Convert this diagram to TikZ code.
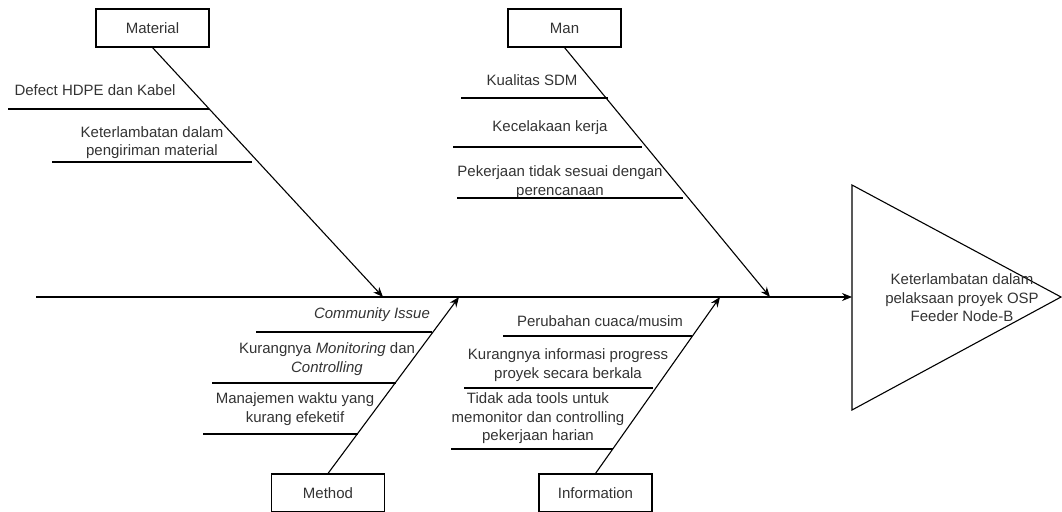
\documentclass[tikz,border=0pt]{standalone}
\usepackage{fontspec}
\setmainfont{Liberation Sans}
\usetikzlibrary{arrows.meta}
\definecolor{txt}{HTML}{333333}
\begin{document}
\begin{tikzpicture}[x=1pt,y=-1pt,line width=1.1pt,
  lbl/.style={text=txt,font=\fontsize{15}{18.5}\selectfont,align=center,inner sep=0pt},
  catbox/.style={draw,line width=1.1pt,minimum width=113pt,minimum height=38pt,inner sep=0pt,text=txt,font=\fontsize{15}{18}\selectfont},
  bone/.style={line width=1.1pt,-{Stealth[length=10pt,width=8pt]}},
  subline/.style={line width=1.1pt}]
\useasboundingbox (0,0) rectangle (1062,511);

% category boxes
\node[catbox] (mat) at (152.5,28) {Material};
\node[catbox] (man) at (564.5,28) {Man};
\node[catbox] (meth) at (328,493) {Method};
\node[catbox] (info) at (595.5,493) {Information};

% spine and head
\coordinate (spst) at (36,297);
\coordinate (headw) at (852,297);
\draw[bone] (spst) -- (headw);
\draw (852,185) -- (852,410) -- (1061,297) -- cycle;
\node[lbl] (effect) at (962,298) {Keterlambatan dalam\\pelaksaan proyek OSP\\Feeder Node-B};

% bones
\coordinate (matend) at (383,297);
\coordinate (manend) at (770,297);
\coordinate (methend) at (459,297);
\coordinate (infoend) at (720,297);
\draw[bone] (mat.south) -- (matend);
\draw[bone] (man.south) -- (manend);
\draw[bone] (meth.north) -- (methend);
\draw[bone] (info.north) -- (infoend);

% Material causes
\node[lbl] (m1) at (95,90) {Defect HDPE dan Kabel};
\draw[subline] (8,109) -- (209,109);
\node[lbl] (m2) at (152,142.5) {Keterlambatan dalam\\pengiriman material};
\draw[subline] (52,162) -- (252,162);

% Man causes
\node[lbl] (n1) at (532,80) {Kualitas SDM};
\draw[subline] (461,98) -- (608,98);
\node[lbl] (n2) at (550,128) {Kecelakaan kerja};
\draw[subline] (453,147) -- (642,147);
\node[lbl] (n3) at (560,182) {Pekerjaan tidak sesuai dengan\\perencanaan};
\draw[subline] (457,198) -- (683,198);

% Method causes
\node[lbl] (t1) at (372,315) {\textit{Community Issue}};
\draw[subline] (256,332) -- (432,332);
\node[lbl] (t2) at (327,359) {Kurangnya \textit{Monitoring} dan\\\textit{Controlling}};
\draw[subline] (212,383) -- (396,383);
\node[lbl] (t3) at (295,409) {Manajemen waktu yang\\kurang efeketif};
\draw[subline] (203,434) -- (358,434);

% Information causes
\node[lbl] (i1) at (600,321) {Perubahan cuaca/musim};
\draw[subline] (503,336) -- (692,336);
\node[lbl] (i2) at (568,365) {Kurangnya informasi progress\\proyek secara berkala};
\draw[subline] (464,388) -- (653,388);
\node[lbl] (i3) at (538,418.5) {Tidak ada tools untuk\\memonitor dan controlling\\pekerjaan harian};
\draw[subline] (451,449) -- (613,449);
\end{tikzpicture}
\end{document}
